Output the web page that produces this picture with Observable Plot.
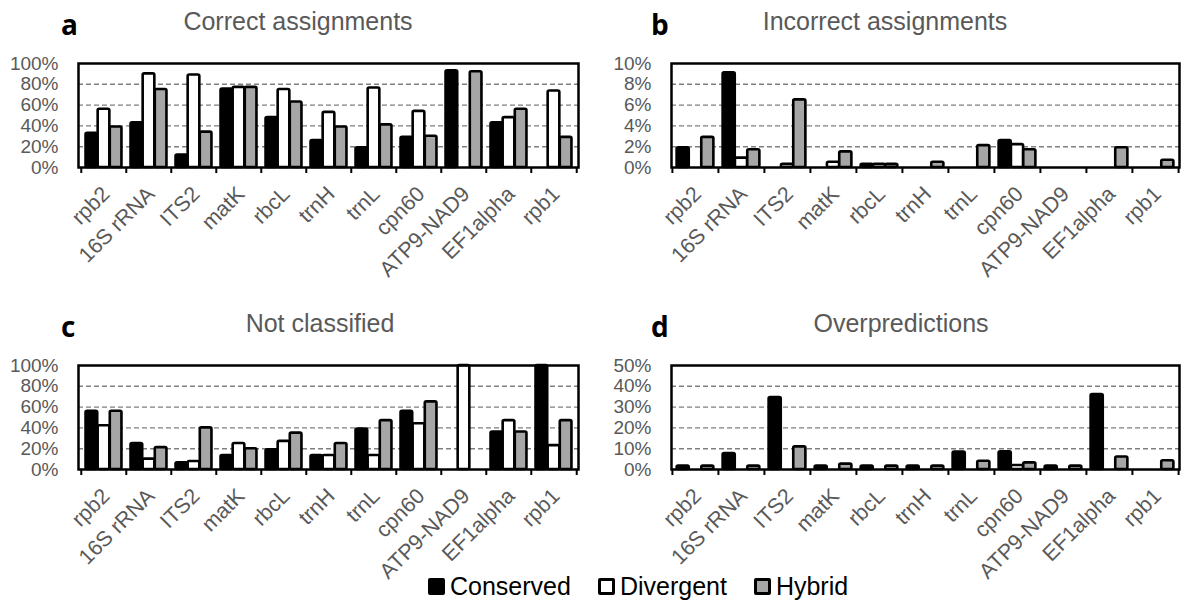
<!DOCTYPE html>
<html><head><meta charset="utf-8">
<script src="https://cdn.jsdelivr.net/npm/d3@7"></script>
<script src="https://cdn.jsdelivr.net/npm/@observablehq/plot@0.6"></script>
<style>
body{margin:0;background:#fff;font-family:"Liberation Sans",Arial,sans-serif;}
#root{position:relative;width:1182px;height:603px;overflow:hidden;background:#fff;}
.panel{position:absolute;}
.panel svg{position:absolute;left:0;}
.letter{position:absolute;font-family:"Open Sans","Liberation Sans",sans-serif;font-weight:700;font-size:28px;line-height:28px;color:#000;}
.title{position:absolute;font-size:25px;line-height:25px;color:#595959;white-space:nowrap;transform:translateX(-50%);}
.legend{position:absolute;left:428px;top:572px;display:flex;align-items:center;font-size:25px;line-height:28px;color:#000;}
.item{display:flex;align-items:center;margin-right:27px;}
.sw{width:17px;height:17px;box-sizing:border-box;border:3px solid #000;margin-right:5px;border-radius:2px;}
</style></head>
<body><div id="root"></div>
<script>
const genes = ["rpb2","16S rRNA","ITS2","matK","rbcL","trnH","trnL","cpn60","ATP9-NAD9","EF1alpha","rpb1"];
const series = ["Conserved","Divergent","Hybrid"];
const seriesColors = ["#000000","#ffffff","#a6a6a6"];

// a: Correct assignments (%)
const correctConserved = [33,43,12,75.5,48,26,19,29,93,43,0];
const correctDivergent = [56,90,89,77,75,53,76.5,54,0,48,73.5];
const correctHybrid    = [39,75,34,77,63,39,41,30,92,56,29];
// b: Incorrect assignments (%)
const incorrectConserved = [1.9,9.1,0,0,0.3,0,0,2.6,0,0,0];
const incorrectDivergent = [0,0.9,0.3,0.5,0.3,0,0,2.2,0,0,0];
const incorrectHybrid    = [2.9,1.7,6.5,1.5,0.3,0.5,2.1,1.7,0,1.9,0.7];
// c: Not classified (%)
const notClassConserved = [56,25,6.4,13.5,19,13.5,39,56,0,36,100];
const notClassDivergent = [42,10,7.7,25,27,13.5,13.5,44,100,47,23];
const notClassHybrid    = [56,21,40,20,35,25,47,65,0,36,47];
// d: Overpredictions (%)
const overConserved = [1.6,7.7,34.6,1.6,1.6,1.6,8.4,8.5,1.6,36,0];
const overDivergent = [0,0,0,0,0,0,0,1.9,0,0,0];
const overHybrid    = [1.6,1.6,10.9,2.6,1.6,1.6,4,3.2,1.6,6,4.2];

const panels = [
  {letter:"a", title:"Correct assignments", left:0, top:0, width:590, ml:78, mr:12, yMax:100, yStep:20, values:[correctConserved,correctDivergent,correctHybrid], letterX:61, titleX:298},
  {letter:"b", title:"Incorrect assignments", left:590, top:0, width:592, ml:81, mr:3, yMax:10, yStep:2, values:[incorrectConserved,incorrectDivergent,incorrectHybrid], letterX:61, titleX:295},
  {letter:"c", title:"Not classified", left:0, top:302, width:590, ml:78, mr:12, yMax:100, yStep:20, values:[notClassConserved,notClassDivergent,notClassHybrid], letterX:61, titleX:320},
  {letter:"d", title:"Overpredictions", left:590, top:302, width:592, ml:81, mr:3, yMax:50, yStep:10, values:[overConserved,overDivergent,overHybrid], letterX:61, titleX:311}
];

const root = document.getElementById("root");
const H = 250, mt = 18, mb = 128, plotH = H - mt - mb;

for (const cfg of panels) {
  const bw = (cfg.width - cfg.ml - cfg.mr) / genes.length;
  const data = [];
  series.forEach((s, si) => cfg.values[si].forEach((v, gi) => data.push({gene: genes[gi], series: s, si, value: v})));
  const ticks = d3.range(0, cfg.yMax + cfg.yStep / 2, cfg.yStep);
  const grid = ticks.filter(t => t > 0 && t < cfg.yMax);
  const pad = 0.1, sub = (1 - 2 * pad) / 3;
  const bars = series.map((s, si) => Plot.barY(data.filter(d => d.si === si && d.value > 0), {
    x: "gene", y: "value", fill: seriesColors[si], stroke: "black", strokeWidth: 2.6,
    insetLeft: bw * (pad + si * sub), insetRight: bw * (1 - pad - (si + 1) * sub), rx: 1.5
  }));
  const svg = Plot.plot({
    width: cfg.width, height: H, marginLeft: cfg.ml, marginRight: cfg.mr, marginTop: mt, marginBottom: mb,
    style: {background: "transparent", fontFamily: "'Liberation Sans', Arial, sans-serif", overflow: "visible"},
    x: {domain: genes, padding: 0, axis: null, label: null},
    y: {domain: [0, cfg.yMax], axis: null, label: null},
    marks: [
      Plot.ruleY(grid, {stroke: "#7f7f7f", strokeWidth: 1.4, strokeDasharray: "5,3"}),
      ...bars,
      Plot.frame({stroke: "black", strokeWidth: 2.5}),
      Plot.ruleX(genes, {x: d => d, dx: -bw / 2, insetTop: plotH, insetBottom: -6, stroke: "black", strokeWidth: 2}),
      Plot.ruleX([genes[genes.length - 1]], {x: d => d, dx: bw / 2, insetTop: plotH, insetBottom: -6, stroke: "black", strokeWidth: 2}),
      Plot.axisY(ticks, {tickSize: 0, tickPadding: 20, tickFormat: d => d + "%", fontSize: 19, fill: "#595959", label: null}),
      Plot.axisX({tickSize: 0, tickRotate: -45, tickPadding: 23, dx: 2, fontSize: 21.5, fill: "#595959", label: null})
    ]
  });
  const div = document.createElement("div");
  div.className = "panel";
  div.style.left = cfg.left + "px";
  div.style.top = cfg.top + "px";
  div.style.width = cfg.width + "px";
  div.style.height = "300px";
  const L = document.createElement("div");
  L.className = "letter"; L.textContent = cfg.letter;
  L.style.left = cfg.letterX + "px"; L.style.top = "10px";
  const T = document.createElement("div");
  T.className = "title"; T.textContent = cfg.title;
  T.style.left = cfg.titleX + "px"; T.style.top = "9px";
  svg.style.top = "45px";
  div.appendChild(svg); div.appendChild(L); div.appendChild(T);
  root.appendChild(div);
}

const legend = document.createElement("div");
legend.className = "legend";
series.forEach((s, si) => {
  const it = document.createElement("div"); it.className = "item";
  const sw = document.createElement("div"); sw.className = "sw"; sw.style.background = seriesColors[si];
  const tx = document.createElement("span"); tx.textContent = s;
  it.appendChild(sw); it.appendChild(tx); legend.appendChild(it);
});
root.appendChild(legend);
</script></body></html>
